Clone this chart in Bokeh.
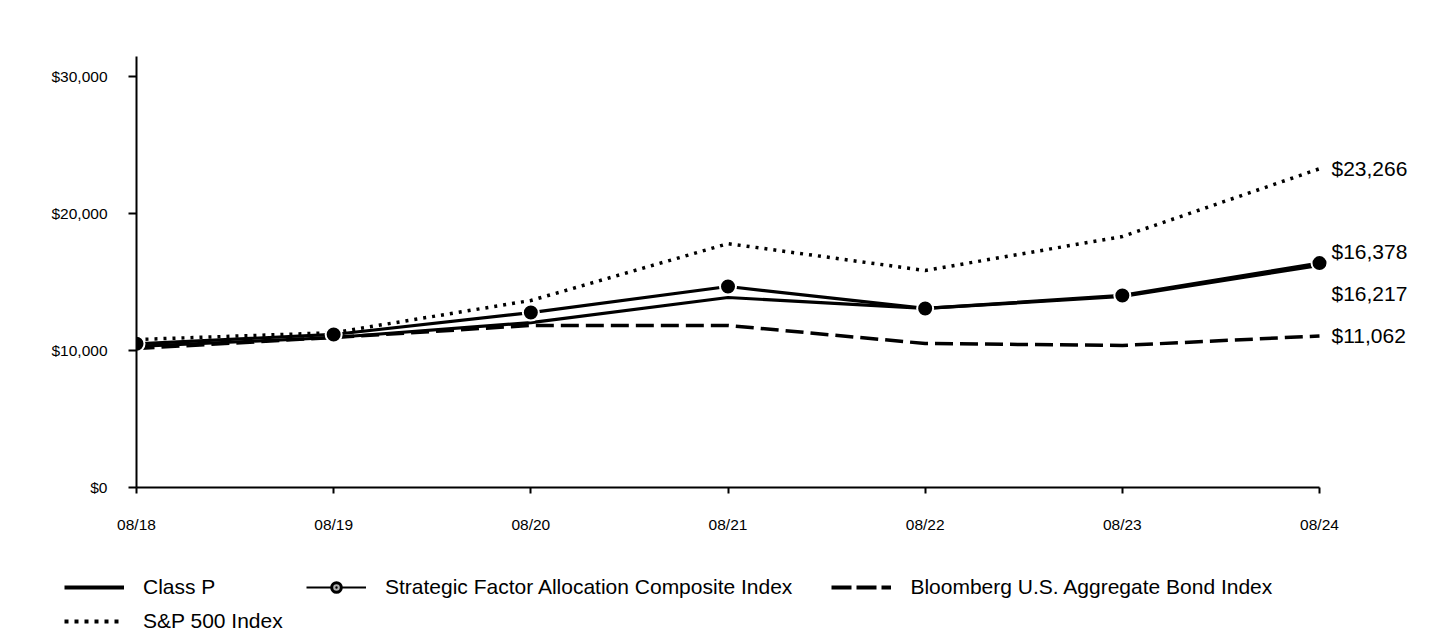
from bokeh.plotting import figure
from bokeh.layouts import column
from bokeh.models import (ColumnDataSource, Legend, LegendItem, NumeralTickFormatter,
                          FixedTicker, Range1d)
from bokeh.core.properties import value
from bokeh.embed import file_html
from bokeh.resources import INLINE

# ---- data ----
dates = ["08/18", "08/19", "08/20", "08/21", "08/22", "08/23", "08/24"]
class_p = [10300, 10950, 12040, 13870, 13070, 13940, 16217]
composite = [10490, 11170, 12770, 14670, 13070, 14020, 16378]
bond = [10150, 10950, 11830, 11830, 10510, 10370, 11062]
sp500 = [10800, 11300, 13650, 17800, 15840, 18320, 23266]
y_ticks = [0, 10000, 20000, 30000]
series_names = ["Class P", "Strategic Factor Allocation Composite Index",
                "Bloomberg U.S. Aggregate Bond Index", "S&P 500 Index"]

end_values = [sp500[-1], composite[-1], class_p[-1], bond[-1]]
end_labels = ["${:,}".format(v) for v in end_values]

# ---- style ----
FONT = "Liberation Sans"
label_offsets = [0, -12, 28, 0]

xs = list(range(len(dates)))
px_per_unit = (1319 - 136) / 6
x_end = 6 + (1425 - 1319) / px_per_unit

src = ColumnDataSource(dict(x=xs, class_p=class_p, composite=composite, bond=bond, sp500=sp500))

p = figure(width=1432, height=560, output_backend="svg", toolbar_location=None,
           x_range=Range1d(0, x_end), y_range=Range1d(0, 31460),
           min_border_left=136, min_border_right=7, min_border_top=56,
           min_border_bottom=73)
p.frame_align = False
p.outline_line_color = None
p.grid.visible = False

p.line("x", "sp500", source=src, line_color="black", line_width=3.5, line_dash="3 6")
p.line("x", "bond", source=src, line_color="black", line_width=3.5, line_dash="18 7")
p.line("x", "class_p", source=src, line_color="black", line_width=3.2)
p.line("x", "composite", source=src, line_color="black", line_width=3.2)
p.scatter("x", "composite", source=src, size=16, fill_color="black",
          line_color="white", line_width=2)

lab_src = ColumnDataSource(dict(x=[6] * 4, y=end_values, text=end_labels,
                                yo=label_offsets))
p.text("x", "y", text="text", source=lab_src, x_offset=12, y_offset="yo",
       text_font=value(FONT), text_font_size="21px", text_baseline="middle",
       text_align="left", text_color="black")

yax = p.yaxis[0]
yax.ticker = FixedTicker(ticks=y_ticks)
yax.formatter = NumeralTickFormatter(format="$0,0")
yax.major_tick_in = 0
yax.major_tick_out = 8
yax.minor_tick_line_color = None
yax.axis_line_width = 2
yax.major_tick_line_width = 2
yax.major_label_standoff = 21
yax.major_label_text_font = FONT
yax.major_label_text_font_size = "15.5px"
yax.major_label_text_color = "black"

xax = p.xaxis[0]
xax.ticker = FixedTicker(ticks=xs)
xax.major_label_overrides = {i: d for i, d in enumerate(dates)}
xax.bounds = (0, 6)
xax.major_tick_in = 0
xax.major_tick_out = 6
xax.minor_tick_line_color = None
xax.axis_line_width = 2
xax.major_tick_line_width = 2
xax.major_label_standoff = 22
xax.major_label_text_font = FONT
xax.major_label_text_font_size = "15.5px"
xax.major_label_text_color = "black"

# ---- legend strip (same data, kept out of view; only the legend shows) ----
pl = figure(width=1432, height=74, output_backend="svg", toolbar_location=None,
            x_range=Range1d(100, 101), y_range=Range1d(100, 101),
            x_axis_location=None, y_axis_location=None,
            min_border=0, min_border_left=0, min_border_right=0,
            min_border_top=0, min_border_bottom=0)
pl.frame_align = False
pl.outline_line_color = None
pl.grid.visible = False
l_sp = pl.line("x", "sp500", source=src, line_color="black", line_width=4, line_dash="4 6")
l_bond = pl.line("x", "bond", source=src, line_color="black", line_width=4, line_dash="20 5")
l_cp = pl.line("x", "class_p", source=src, line_color="black", line_width=4)
l_cl = pl.line("x", "composite", source=src, line_color="black", line_width=2)
l_cs = pl.scatter("x", "composite", source=src, marker="circle_dot", size=10,
                  fill_color="#b0b0b0", line_color="black", line_width=3)

common = dict(padding=0, margin=0, glyph_width=60, glyph_height=24, label_height=20,
              label_standoff=19, border_line_color=None, background_fill_alpha=0,
              label_text_font=FONT, label_text_font_size="21px", label_text_color="black")

legend_a = Legend(items=[
    LegendItem(label=series_names[0], renderers=[l_cp]),
    LegendItem(label=series_names[3], renderers=[l_sp]),
], orientation="vertical", location=(64, 1), spacing=10, **common)
legend_b = Legend(items=[
    LegendItem(label=series_names[1], renderers=[l_cl, l_cs]),
    LegendItem(label=series_names[2], renderers=[l_bond]),
], orientation="horizontal", location=(306, 35), spacing=39, **common)
pl.add_layout(legend_a, "center")
pl.add_layout(legend_b, "center")

open("out.html", "w").write(file_html(column(p, pl, spacing=0), INLINE))
